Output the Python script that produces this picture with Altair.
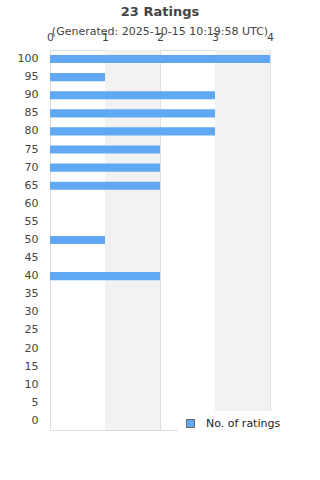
import altair as alt
import pandas as pd

scores = [100, 95, 90, 85, 80, 75, 70, 65, 60, 55, 50, 45, 40, 35, 30, 25, 20, 15, 10, 5, 0]
counts = [4, 1, 3, 3, 3, 2, 2, 2, 0, 0, 1, 0, 2, 0, 0, 0, 0, 0, 0, 0, 0]
band_start = [1, 3]
band_end = [2, 4]
x_ticks = [0, 1, 2, 3, 4]

labels = [str(s) for s in scores]
df = pd.DataFrame({"score": labels, "count": counts, "series": ["No. of ratings"] * len(scores)})
bands = pd.DataFrame({"start": band_start, "end": band_end})

x_scale = alt.Scale(domain=[0, 4], nice=False, zero=True)
x_axis = alt.Axis(orient="top", values=x_ticks, title=None, grid=True,
                  gridColor="#e0e0e0", domain=False, ticks=False, labelFlush=False,
                  labelPadding=8, labelFontSize=11, labelColor="#444",
                  labelFont="DejaVu Sans", format="d")

bg = alt.Chart(bands).mark_rect(color="#f2f2f2").encode(
    x=alt.X("start:Q", scale=x_scale, axis=x_axis),
    x2="end:Q",
)

bars = alt.Chart(df).mark_bar().encode(
    x=alt.X("count:Q", scale=x_scale, axis=x_axis),
    y=alt.Y("score:N", sort=labels,
            scale=alt.Scale(paddingInner=0.55, paddingOuter=0.275),
            axis=alt.Axis(title=None, ticks=False, domain=False, labelPadding=12,
                          labelFontSize=11, labelColor="#444", labelFont="DejaVu Sans")),
    color=alt.Color("series:N",
                    scale=alt.Scale(domain=["No. of ratings"], range=["#60a8f4"]),
                    legend=alt.Legend(title=None, orient="none", legendX=128, legendY=361,
                                      fillColor="white", padding=7, symbolType="square",
                                      symbolSize=64, symbolStrokeColor="#666",
                                      symbolStrokeWidth=1, labelOffset=10,
                                      labelFontSize=11, labelColor="#222",
                                      labelFont="DejaVu Sans")),
)

chart = alt.layer(bg, bars).properties(
    width=220, height=380,
    title=alt.TitleParams(text="23 Ratings",
                          subtitle="(Generated: 2025-10-15 10:19:58 UTC)",
                          anchor="middle", font="DejaVu Sans", fontSize=13,
                          fontWeight="bold", color="#444",
                          subtitleFont="DejaVu Sans", subtitleFontSize=11,
                          subtitleColor="#444", subtitlePadding=7, offset=-6),
    autosize=alt.AutoSizeParams(type="none"),
    padding={"left": 50, "top": 50, "right": 50, "bottom": 50},
).configure_view(stroke="#d8d8d8").configure(background="white")

chart.save("out.html", embed_options={"renderer": "svg", "actions": False})
